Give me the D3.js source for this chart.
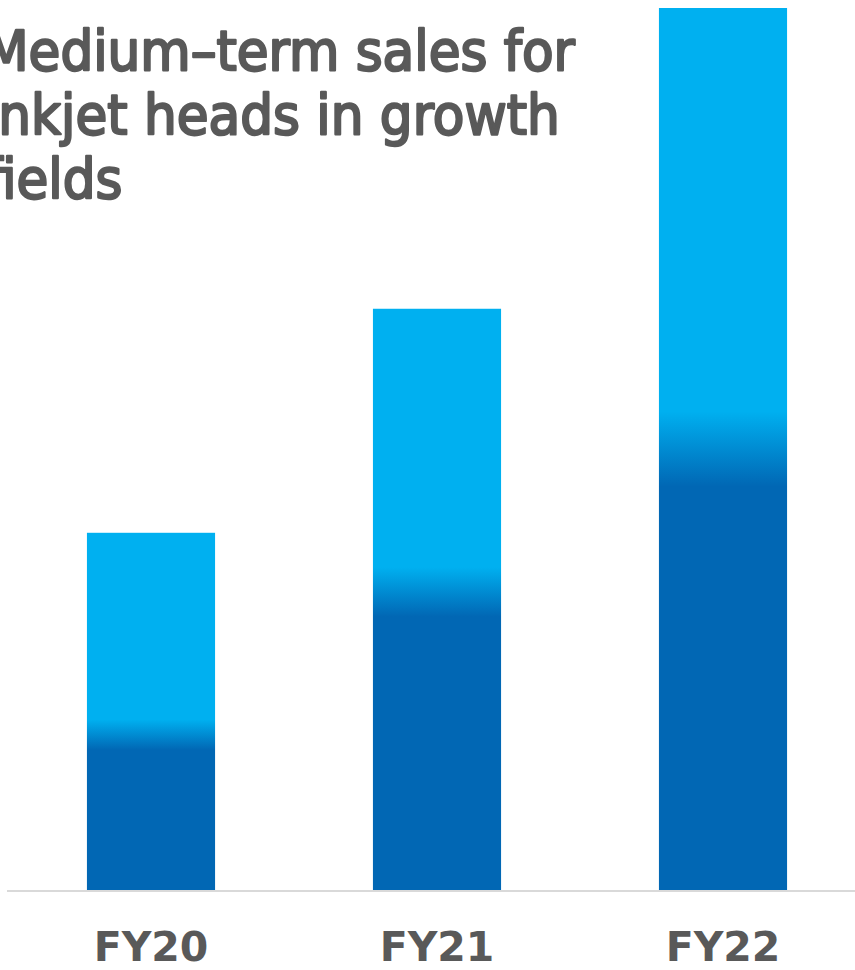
<!DOCTYPE html>
<html>
<head>
<meta charset="utf-8">
<script src="https://cdn.jsdelivr.net/npm/d3@7/dist/d3.min.js"></script>
<style>
  html, body { margin: 0; padding: 0; background: #ffffff; overflow: hidden; }
  svg { display: block; }
</style>
</head>
<body>
<svg id="chart" width="855" height="970"></svg>
<script>
// Fiscal years shown on the category axis
const categories = ["FY20", "FY21", "FY22"];
// Lower (dark) segment of each bar
const baseValues = [17.6, 33.8, 50.0];
// Upper (light) segment stacked on top
const growthValues = [22.9, 32.1, 50.0];
// Heading, broken into its three lines
const titleLines = ["Medium\u2013term sales for", "inkjet heads in growth", "fields"];

const W = 855, H = 970;
const svg = d3.select("#chart");

const x = d3.scaleBand()
  .domain(categories)
  .range([8, 866])
  .paddingInner(0.552)
  .paddingOuter(0.276);

const y = d3.scaleLinear()
  .domain([0, 100])
  .range([890, 8]);

const rows = categories.map((c, i) => ({
  cat: c,
  base: baseValues[i],
  total: baseValues[i] + growthValues[i]
}));

// One vertical gradient per bar, blending dark into light at the segment boundary
const defs = svg.append("defs");
const darkBlue = "#0167b4";
const lightBlue = "#00b0f0";
rows.forEach((d, i) => {
  const top = y(d.total), bottom = y(0), split = y(d.base);
  const h = bottom - top;
  const blend = h * 0.085;
  const g = defs.append("linearGradient")
    .attr("id", "bar-grad-" + i)
    .attr("gradientUnits", "userSpaceOnUse")
    .attr("x1", 0).attr("x2", 0)
    .attr("y1", top).attr("y2", bottom);
  const s0 = (split - blend / 2 - top) / h;
  const s1 = (split + blend / 2 - top) / h;
  g.append("stop").attr("offset", 0).attr("stop-color", lightBlue);
  g.append("stop").attr("offset", s0).attr("stop-color", lightBlue);
  g.append("stop").attr("offset", s1).attr("stop-color", darkBlue);
  g.append("stop").attr("offset", 1).attr("stop-color", darkBlue);
});

svg.append("g")
  .selectAll("rect")
  .data(rows)
  .join("rect")
  .attr("x", d => x(d.cat))
  .attr("y", d => y(d.total))
  .attr("width", x.bandwidth())
  .attr("height", d => y(0) - y(d.total))
  .attr("fill", (d, i) => `url(#bar-grad-${i})`);

// Baseline
svg.append("line")
  .attr("x1", 7).attr("x2", W)
  .attr("y1", y(0) + 1).attr("y2", y(0) + 1)
  .attr("stroke", "#d9d9d9")
  .attr("stroke-width", 2);

// Category labels via a bottom axis without domain or ticks
const axis = svg.append("g")
  .attr("transform", `translate(0, ${y(0)})`)
  .call(d3.axisBottom(x).tickSize(0).tickPadding(0));
axis.select(".domain").remove();
axis.selectAll("text")
  .attr("dy", null)
  .attr("y", 71)
  .attr("font-family", "'DejaVu Sans', Verdana, sans-serif")
  .attr("font-weight", "bold")
  .attr("font-size", 41)
  .attr("fill", "#595959");

// Title block
const title = svg.append("g")
  .attr("transform", "translate(-16, 0) scale(0.94, 1)");
title.selectAll("text")
  .data(titleLines)
  .join("text")
  .attr("x", 0)
  .attr("y", (d, i) => 70 + i * 64)
  .attr("font-family", "'DejaVu Sans', Verdana, sans-serif")
  .attr("font-size", 55)
  .attr("fill", "#595959")
  .attr("stroke", "#595959")
  .attr("stroke-width", 2.4)
  .attr("stroke-linejoin", "round")
  .text(d => d);
</script>
</body>
</html>
